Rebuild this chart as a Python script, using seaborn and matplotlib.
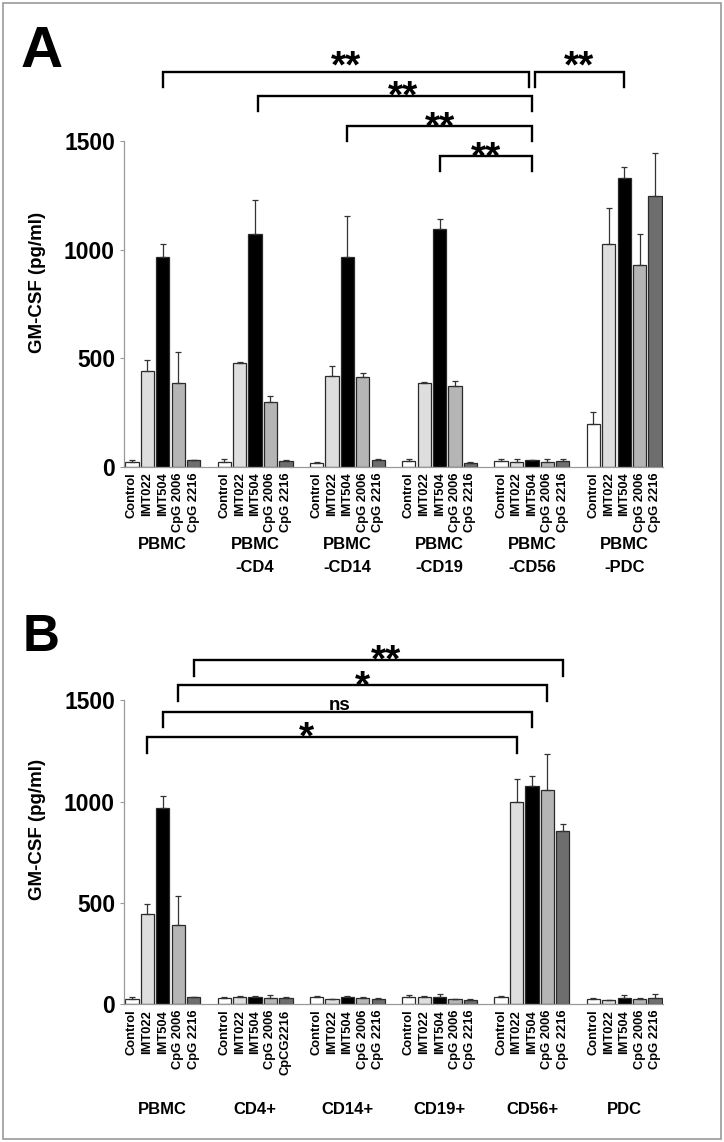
import numpy as np
import pandas as pd
import matplotlib
matplotlib.use("Agg")
import matplotlib.pyplot as plt
import seaborn as sns
from matplotlib.textpath import TextPath
from matplotlib.font_manager import FontProperties
from matplotlib.transforms import offset_copy, blended_transform_factory
from matplotlib.patches import Rectangle

# ---------------- data ----------------
treatments = ["Control", "IMT022", "IMT504", "CpG 2006", "CpG 2216"]
bar_colors = ["#ffffff", "#dedede", "#000000", "#b5b5b5", "#6e6e6e"]

# Panel A
groups_a_line1 = ["PBMC", "PBMC", "PBMC", "PBMC", "PBMC", "PBMC"]
groups_a_line2 = ["", "-CD4", "-CD14", "-CD19", "-CD56", "-PDC"]
a_control = [22, 25, 20, 29, 27, 199]
a_imt022 = [443, 480, 419, 386, 24, 1025]
a_imt504 = [968, 1072, 968, 1095, 30, 1330]
a_cpg2006 = [386, 299, 413, 373, 21, 930]
a_cpg2216 = [30, 28, 33, 20, 27, 1248]
a_control_err = [8, 14, 2, 8, 10, 56]
a_imt022_err = [50, 5, 45, 3, 14, 166]
a_imt504_err = [57, 155, 186, 45, 4, 52]
a_cpg2006_err = [142, 28, 21, 21, 14, 142]
a_cpg2216_err = [4, 3, 2, 3, 10, 195]
a_ticklabels = [treatments] * 6

# Panel B
groups_b = ["PBMC", "CD4+", "CD14+", "CD19+", "CD56+", "PDC"]
b_control = [25, 29, 38, 35, 35, 27]
b_imt022 = [445, 36, 26, 35, 996, 21]
b_imt504 = [970, 36, 38, 36, 1078, 31]
b_cpg2006 = [391, 30, 29, 24, 1057, 26]
b_cpg2216 = [35, 32, 25, 22, 855, 30]
b_control_err = [10, 6, 3, 10, 5, 2]
b_imt022_err = [50, 6, 2, 5, 114, 2]
b_imt504_err = [58, 6, 4, 13, 50, 17]
b_cpg2006_err = [142, 14, 7, 3, 176, 4]
b_cpg2216_err = [3, 5, 8, 3, 33, 20]
b_ticklabels = [treatments,
                ["Control", "IMT022", "IMT504", "CpG 2006", "CpCG2216"],
                treatments, treatments, treatments, treatments]

yticks = [0, 500, 1000, 1500]
ylabel = "GM-CSF (pg/ml)"

# significance brackets: (group1, treatment1, group2, treatment2, line y, label y, label)
brackets_a = [
    (0, 2, 4, 2, 1819, 1884, "**", 0.0, -0.03, 0.0),
    (4, 2, 5, 2, 1817, 1884, "**", 0.03, 0.0, 0.0),
    (1, 2, 4, 2, 1707, 1743, "**", 0.03, 0.0, 0.09),
    (2, 2, 4, 2, 1568, 1601, "**", 0.0, 0.0, 0.0),
    (3, 2, 4, 2, 1431, 1463, "**", 0.0, 0.0, 0.0),
]
brackets_b = [
    (0, 4, 4, 4, 1699, 1740, "**", 0.0, 0.0, 0.08),
    (0, 3, 4, 3, 1575, 1610, "*", 0.0, 0.0, 0.0),
    (0, 2, 4, 2, 1444, 1477, "ns", 0.0, 0.0, -0.08),
    (0, 1, 4, 1, 1319, 1358, "*", 0.0, 0.0, -0.28),
]

# ---------------- figure ----------------
plt.rcParams["font.family"] = ["Liberation Sans", "DejaVu Sans"]
plt.rcParams["font.weight"] = "bold"

W, H = 724, 1142
fig = plt.figure(figsize=(W / 100, H / 100), dpi=100)


def px_axes(left, top, right, bottom):
    return fig.add_axes([left / W, 1 - bottom / H, (right - left) / W, (bottom - top) / H])


ax_a = px_axes(124, 141, 663, 467)
ax_b = px_axes(124, 700.3, 663, 1004.3)

fp_bold = FontProperties(family="Liberation Sans", weight="bold")


def draw_panel(ax, groups, means, errs, ticklabels, brackets, drop):
    rows = []
    for t, vals in zip(treatments, means):
        for g, v in zip(groups, vals):
            rows.append({"group": g, "treatment": t, "value": v})
    df = pd.DataFrame(rows)
    sns.barplot(data=df, x="group", y="value", hue="treatment", order=groups,
                hue_order=treatments, palette=bar_colors, saturation=1,
                width=0.835, gap=0.14, edgecolor="#2a2a2a", linewidth=0.9,
                errorbar=None, legend=False, ax=ax)
    bars = sorted(ax.patches, key=lambda p: p.get_x())
    xs = np.array([p.get_x() + p.get_width() / 2 for p in bars])
    hs = np.array([p.get_height() for p in bars])
    flat_err = np.array([errs[t][g] for g in range(len(groups)) for t in range(len(treatments))])
    ax.errorbar(xs, hs, yerr=[np.zeros_like(flat_err), flat_err], fmt="none",
                ecolor="#333333", elinewidth=0.9, capsize=2.2, capthick=0.9, zorder=1)

    flat_labels = [lab for grp in ticklabels for lab in grp]
    ax.set_xticks(xs)
    ax.set_xticklabels(flat_labels, rotation=90, fontsize=9.3, fontweight="bold")
    ax.tick_params(axis="x", length=0, pad=4)
    ax.set_xlim(-0.42, len(groups) - 1 + 0.42)
    ax.set_ylim(0, 1500)
    ax.set_yticks(yticks)
    ax.set_yticklabels([str(v) for v in yticks], fontsize=16.5, fontweight="bold")
    ax.tick_params(axis="y", length=3, width=0.8, color="#9a9a9a", pad=3.5)
    ax.set_xlabel("")
    ax.set_ylabel("")
    for s in ["top", "right"]:
        ax.spines[s].set_visible(False)
    for s in ["left", "bottom"]:
        ax.spines[s].set_color("#9a9a9a")
        ax.spines[s].set_linewidth(0.9)
    ax.set_facecolor("white")

    nt = len(treatments)
    for g1, t1, g2, t2, yl, ylab, lab, d1, d2, dl in brackets:
        x1 = xs[g1 * nt + t1] + d1
        x2 = xs[g2 * nt + t2] + d2
        ax.plot([x1, x1, x2, x2], [yl - drop, yl, yl, yl - drop], color="black",
                lw=1.7, clip_on=False, solid_joinstyle="miter")
        fs = 13.5 if lab == "ns" else 28
        ext = TextPath((0, 0), lab, size=fs, prop=fp_bold).get_extents()
        off = (ext.y0 + ext.y1) / 2
        tr = offset_copy(ax.transData, fig=fig, y=-off, units="points")
        ax.text((x1 + x2) / 2 + dl, ylab, lab, ha="center", va="baseline",
                fontsize=fs, fontweight="bold", transform=tr, clip_on=False)
    return xs


draw_panel(ax_a, [f"{a}{b}" for a, b in zip(groups_a_line1, groups_a_line2)],
           [a_control, a_imt022, a_imt504, a_cpg2006, a_cpg2216],
           [a_control_err, a_imt022_err, a_imt504_err, a_cpg2006_err, a_cpg2216_err],
           a_ticklabels, brackets_a, 69)
draw_panel(ax_b, groups_b,
           [b_control, b_imt022, b_imt504, b_cpg2006, b_cpg2216],
           [b_control_err, b_imt022_err, b_imt504_err, b_cpg2006_err, b_cpg2216_err],
           b_ticklabels, brackets_b, 77)

# group labels
tr_a = blended_transform_factory(ax_a.transData, fig.transFigure)
for i, (l1, l2) in enumerate(zip(groups_a_line1, groups_a_line2)):
    ax_a.text(i, 1 - 545 / H, l1, ha="center", va="center", fontsize=12,
              fontweight="bold", transform=tr_a)
    if l2:
        ax_a.text(i, 1 - 567 / H, l2, ha="center", va="center", fontsize=12,
                  fontweight="bold", transform=tr_a)
tr_b = blended_transform_factory(ax_b.transData, fig.transFigure)
for i, g in enumerate(groups_b):
    ax_b.text(i, 1 - 1109 / H, g, ha="center", va="center", fontsize=12,
              fontweight="bold", transform=tr_b)

# y labels
fig.text(37 / W, 1 - 282 / H, ylabel, rotation=90, ha="center", va="center",
         fontsize=13.5, fontweight="bold")
fig.text(37 / W, 1 - 829 / H, ylabel, rotation=90, ha="center", va="center",
         fontsize=13.5, fontweight="bold")

# panel letters
fig.text(21 / W, 1 - 67 / H, "A", ha="left", va="baseline", fontsize=42, fontweight="bold")
fig.text(23 / W, 1 - 651 / H, "B", ha="left", va="baseline", fontsize=37, fontweight="bold")

# outer frame
fig.add_artist(Rectangle((2.5 / W, 3.5 / H), (720.5 - 2.5) / W, (1138.5 - 2.5) / H,
                         transform=fig.transFigure, fill=False, edgecolor="#9a9a9a", lw=1.2))

fig.savefig("out.png", dpi=100, facecolor="white")
